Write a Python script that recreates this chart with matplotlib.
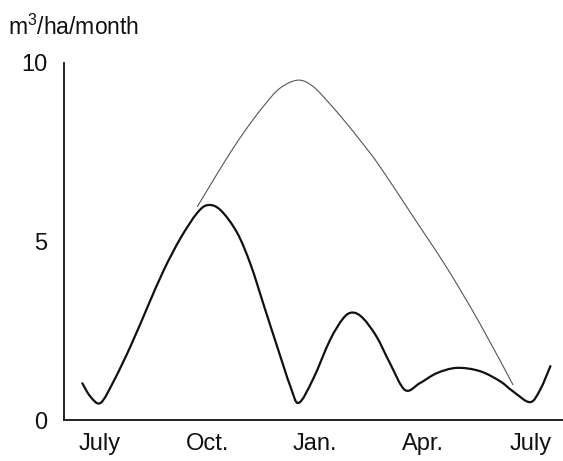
import numpy as np
import matplotlib.pyplot as plt
from matplotlib.path import Path
from matplotlib.patches import PathPatch

plt.rcParams['font.family'] = ['Liberation Sans', 'DejaVu Sans']
plt.rcParams['mathtext.fontset'] = 'custom'
plt.rcParams['mathtext.rm'] = 'Liberation Sans'
plt.rcParams['mathtext.it'] = 'Liberation Sans'

# months since July (0 = July, 12 = next July), values in m3/ha/month
thick_months = [-0.49, -0.26, 0.02, 0.39, 0.86, 1.32, 1.78, 2.25, 2.71, 3.01,
                3.36, 3.82, 4.20, 4.57, 4.94, 5.31, 5.54, 5.94, 6.41, 6.78,
                7.04, 7.33, 7.71, 8.08, 8.50, 8.91, 9.38, 9.94, 10.58, 11.14,
                11.51, 11.98, 12.26, 12.55]
thick_values = [1.03, 0.65, 0.48, 1.10, 2.08, 3.15, 4.20, 5.10, 5.80, 6.02,
                5.88, 5.25, 4.35, 3.20, 2.05, 0.93, 0.48, 1.15, 2.24, 2.85,
                3.01, 2.85, 2.33, 1.59, 0.84, 1.03, 1.31, 1.46, 1.37, 1.09,
                0.80, 0.50, 0.84, 1.51]

thin_months = [2.71, 3.16, 3.62, 4.09, 4.55, 5.01, 5.52, 5.94, 6.41, 6.87,
               7.33, 7.80, 8.73, 9.66, 10.58, 11.51]
thin_values = [5.97, 6.72, 7.47, 8.17, 8.78, 9.29, 9.52, 9.34, 8.85, 8.31,
               7.73, 7.10, 5.69, 4.27, 2.71, 0.98]

month_ticks = [0, 3, 6, 9, 12]
month_labels = ['July', 'Oct.', 'Jan.', 'Apr.', 'July']
value_ticks = [0, 5, 10]


def smooth_path(xs, ys):
    # cubic bezier segments through the read points (catmull-rom style)
    p = np.column_stack([xs, ys])
    p = np.vstack([p[0], p, p[-1]])
    verts = [p[1]]
    codes = [Path.MOVETO]
    for i in range(1, len(p) - 2):
        c1 = p[i] + (p[i + 1] - p[i - 1]) / 6
        c2 = p[i + 1] - (p[i + 2] - p[i]) / 6
        verts += [c1, c2, p[i + 1]]
        codes += [Path.CURVE4] * 3
    return Path(verts, codes)


def plot_chart():
    fig = plt.figure(figsize=(5.63, 4.61), dpi=100)
    ax = fig.add_axes([64 / 563, 41 / 461, 499 / 563, 357 / 461])

    ax.add_patch(PathPatch(smooth_path(thin_months, thin_values),
                           facecolor='none', edgecolor='#555555', linewidth=0.8))
    ax.add_patch(PathPatch(smooth_path(thick_months, thick_values),
                           facecolor='none', edgecolor='#111111', linewidth=1.6,
                           capstyle='round'))

    ax.set_xlim(-1.0, 12.9)
    ax.set_ylim(0, 10)
    ax.set_xticks(month_ticks)
    ax.set_xticklabels(month_labels)
    ax.set_yticks(value_ticks)
    ax.tick_params(length=0, labelsize=17, colors='#111111')
    ax.tick_params(axis='y', pad=12)
    ax.tick_params(axis='x', pad=9)

    for side in ['top', 'right']:
        ax.spines[side].set_visible(False)
    for side in ['left', 'bottom']:
        ax.spines[side].set_linewidth(1.3)
        ax.spines[side].set_color('#111111')

    fig.text(8 / 563, 1 - 27 / 461, 'm$^3$/ha/month', fontsize=16.5,
             va='center', ha='left', color='#111111')

    fig.savefig('out.png', dpi=100)


if __name__ == '__main__':
    plot_chart()
